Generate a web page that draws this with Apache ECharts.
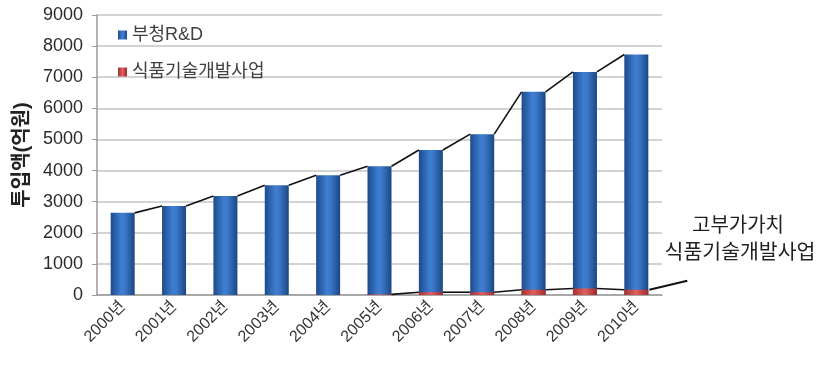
<!DOCTYPE html>
<html>
<head>
<meta charset="utf-8">
<script src="https://cdn.jsdelivr.net/npm/echarts@6/dist/echarts.min.js"></script>
<style>html,body{margin:0;padding:0;background:#fff;}#c{width:824px;height:376px;}</style>
</head>
<body>
<div id="c"></div>
<script>
var years = ['2000년','2001년','2002년','2003년','2004년','2005년','2006년','2007년','2008년','2009년','2010년'];
var rdTotal = [2640, 2860, 3180, 3530, 3850, 4140, 4660, 5170, 6530, 7170, 7730];
var foodTech = [0, 0, 0, 0, 0, 20, 90, 90, 170, 210, 170];
var yTicks = [0, 1000, 2000, 3000, 4000, 5000, 6000, 7000, 8000, 9000];
var seriesNames = ['부청R&D', '식품기술개발사업'];
var annotationLines = ['고부가가치', '식품기술개발사업'];

var FONT = "'Liberation Sans', 'Noto Sans CJK KR', sans-serif";
var BAR_W = 24;

var blueGrad = new echarts.graphic.LinearGradient(0, 0, 1, 0, [
  {offset: 0, color: '#1d4a8c'},
  {offset: 0.45, color: '#3f7ed2'},
  {offset: 0.6, color: '#3b78c9'},
  {offset: 1, color: '#1b4684'}
]);
var redGrad = new echarts.graphic.LinearGradient(0, 0, 1, 0, [
  {offset: 0, color: '#a83030'},
  {offset: 0.5, color: '#e06060'},
  {offset: 1, color: '#a02a2a'}
]);

function connector(values, startIdx) {
  return function (params, api) {
    var i = params.dataIndex;
    if (i < startIdx || i >= values.length - 1) return null;
    var a = api.coord([i, values[i]]);
    var b = api.coord([i + 1, values[i + 1]]);
    return {
      type: 'line',
      shape: {x1: a[0] + BAR_W / 2, y1: a[1], x2: b[0] - BAR_W / 2, y2: b[1]},
      style: {stroke: '#111', lineWidth: 1.6}
    };
  };
}

var chart = echarts.init(document.getElementById('c'), null, {renderer: 'canvas'});
chart.setOption({
  animation: false,
  grid: {left: 97, right: 162, top: 15, bottom: 81},
  legend: {
    orient: 'vertical', left: 113, top: 21, itemGap: 19,
    itemWidth: 9, itemHeight: 9, icon: 'rect',
    textStyle: {fontFamily: FONT, fontSize: 18, color: '#404040'},
    data: seriesNames
  },
  xAxis: {
    type: 'category', data: years,
    axisLine: {lineStyle: {color: '#9a9a9a', width: 1.5}},
    axisTick: {show: false},
    axisLabel: {rotate: 45, fontFamily: FONT, fontSize: 16, color: '#333', margin: 9}
  },
  yAxis: {
    type: 'value', min: 0, max: 9000, interval: 1000,
    name: '투입액(억원)', nameLocation: 'middle', nameGap: 61, nameRotate: 90,
    nameTextStyle: {fontFamily: FONT, fontSize: 20, fontWeight: 'bold', color: '#222'},
    axisLine: {show: true, lineStyle: {color: '#9a9a9a', width: 1.5}},
    axisTick: {show: true, length: 5, lineStyle: {color: '#9a9a9a'}},
    axisLabel: {fontFamily: FONT, fontSize: 18, color: '#2a2a2a', margin: 14,
      formatter: function (v) { return yTicks.indexOf(v) >= 0 ? String(v) : ''; }},
    splitLine: {lineStyle: {color: '#c4c4c4', width: 1.5}}
  },
  graphic: [
    {type: 'text', x: 738, y: 216, style: {text: annotationLines[0], font: '20px ' + FONT, fill: '#222', textAlign: 'center'}},
    {type: 'text', x: 740, y: 243, style: {text: annotationLines[1], font: '20.5px ' + FONT, fill: '#222', textAlign: 'center'}}
  ],
  series: [
    {
      name: seriesNames[0], type: 'bar', data: rdTotal, barWidth: BAR_W,
      itemStyle: {color: blueGrad}, z: 3
    },
    {
      name: seriesNames[1], type: 'bar', data: foodTech, barWidth: BAR_W, barGap: '-100%',
      itemStyle: {color: redGrad}, z: 4
    },
    {
      type: 'custom', data: rdTotal.map(function (v, i) { return [i, v]; }),
      renderItem: connector(rdTotal, 0), z: 5, silent: true
    },
    {
      type: 'custom', data: foodTech.map(function (v, i) { return [i, v]; }),
      renderItem: connector(foodTech, 5), z: 5, silent: true
    },
    {
      type: 'custom', data: [[years.length - 1, foodTech[foodTech.length - 1]]], z: 5, silent: true,
      renderItem: function (params, api) {
        var p = api.coord([api.value(0), api.value(1)]);
        return {type: 'line', shape: {x1: p[0] + BAR_W / 2 + 1, y1: p[1], x2: p[0] + BAR_W / 2 + 39, y2: p[1] - 9},
          style: {stroke: '#111', lineWidth: 2}};
      }
    }
  ]
});
</script>
</body>
</html>
